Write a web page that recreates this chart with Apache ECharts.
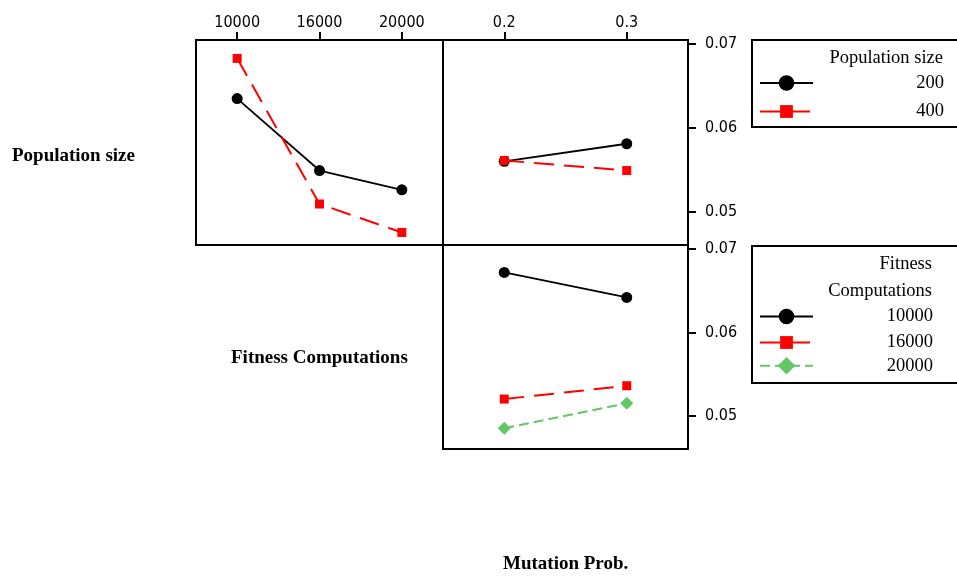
<!DOCTYPE html>
<html>
<head>
<meta charset="utf-8">
<script src="https://cdn.jsdelivr.net/npm/echarts@6/dist/echarts.min.js"></script>
<style>
  html, body { margin: 0; padding: 0; background: #fff; }
  #chart { width: 957px; height: 577px; }
</style>
</head>
<body>
<div id="chart"></div>
<script>
// Interaction plot: mean response by factor level pairs
const fitnessLevels = ['10000', '16000', '20000'];
const mutationLevels = ['0.2', '0.3'];
const yTicks = [0.05, 0.06, 0.07];

// Population size x Fitness computations
const pop200ByFitness = [0.0635, 0.0549, 0.0526];
const pop400ByFitness = [0.0683, 0.0509, 0.0475];
// Population size x Mutation prob.
const pop200ByMutation = [0.0560, 0.0581];
const pop400ByMutation = [0.0561, 0.0549];
// Fitness computations x Mutation prob.
const fit10000ByMutation = [0.0672, 0.0642];
const fit16000ByMutation = [0.0520, 0.0536];
const fit20000ByMutation = [0.0485, 0.0515];

const SANS = "'DejaVu Sans Condensed', 'Liberation Sans', sans-serif";
const SERIF = "'Liberation Serif', 'Times New Roman', serif";
const BLACK = '#000000';
const RED = '#ff0000';
const GREEN = '#63c763';

const chart = echarts.init(document.getElementById('chart'), null, { renderer: 'canvas' });

const frame = { show: true, borderColor: BLACK, borderWidth: 2, backgroundColor: 'transparent' };

function catAxis(gridIndex, data, showTop) {
  return {
    type: 'category', gridIndex, data, position: 'top', boundaryGap: true,
    axisLine: { show: showTop, lineStyle: { color: BLACK, width: 2 } },
    axisTick: { show: showTop, alignWithLabel: true, length: 8, lineStyle: { color: BLACK, width: 2 } },
    axisLabel: { show: showTop, margin: 9, color: BLACK, fontFamily: SANS, fontSize: 16 },
    splitLine: { show: false }
  };
}
function valAxis(gridIndex, showRight) {
  return {
    type: 'value', gridIndex, position: 'right', min: 0.046, max: 0.0705,
    axisLine: { show: false },
    axisTick: { show: showRight, customValues: yTicks, length: 8, lineStyle: { color: BLACK, width: 2 } },
    axisLabel: {
      show: showRight, customValues: yTicks, margin: 17, color: BLACK,
      fontFamily: SANS, fontSize: 16, formatter: v => v.toFixed(2)
    },
    splitLine: { show: false }
  };
}

const blackLine = (name, xi, yi, data) => ({
  name, type: 'line', xAxisIndex: xi, yAxisIndex: yi, data,
  symbol: 'circle', symbolSize: 11, color: BLACK,
  itemStyle: { color: BLACK },
  lineStyle: { color: BLACK, width: 1.8, type: 'solid' }, z: 3
});
const redLine = (name, xi, yi, data) => ({
  name, type: 'line', xAxisIndex: xi, yAxisIndex: yi, data,
  symbol: 'rect', symbolSize: 9, color: RED,
  itemStyle: { color: RED },
  lineStyle: { color: RED, width: 2, type: [20, 10] }, z: 4
});
const greenLine = (name, xi, yi, data) => ({
  name, type: 'line', xAxisIndex: xi, yAxisIndex: yi, data,
  symbol: 'diamond', symbolSize: [13, 13], color: GREEN,
  itemStyle: { color: GREEN },
  lineStyle: { color: GREEN, width: 2, type: [10, 5] }, z: 2
});

function legendRow(name, centerY, itemHeight, textWidth) {
  return {
    data: [name], orient: 'vertical', left: 759, top: centerY - itemHeight / 2,
    padding: 0, itemGap: 0, itemWidth: 53, itemHeight, selectedMode: false,
    formatter: n => '{r|' + n + '}',
    textStyle: {
      color: BLACK, fontFamily: SERIF, fontSize: 18.5,
      rich: { r: { width: textWidth, align: 'right', color: BLACK, fontFamily: SERIF, fontSize: 18.5 } }
    }
  };
}

const option = {
  backgroundColor: '#ffffff',
  animation: false,
  grid: [
    Object.assign({ left: 196, top: 40, width: 247, height: 205 }, frame),
    Object.assign({ left: 443, top: 40, width: 245, height: 205 }, frame),
    Object.assign({ left: 443, top: 245, width: 245, height: 204 }, frame)
  ],
  xAxis: [
    catAxis(0, fitnessLevels, true),
    catAxis(1, mutationLevels, true),
    catAxis(2, mutationLevels, false)
  ],
  yAxis: [
    valAxis(0, false),
    valAxis(1, true),
    valAxis(2, true)
  ],
  legend: [
    legendRow('200', 83.3, 19.5, 126),
    legendRow('400', 110, 16, 126),
    legendRow('10000', 316.7, 19.5, 115),
    legendRow('16000', 341, 16, 115),
    legendRow('20000', 367.3, 22, 115)
  ],
  series: [
    blackLine('200', 0, 0, pop200ByFitness),
    redLine('400', 0, 0, pop400ByFitness),
    blackLine('200', 1, 1, pop200ByMutation),
    redLine('400', 1, 1, pop400ByMutation),
    blackLine('10000', 2, 2, fit10000ByMutation),
    redLine('16000', 2, 2, fit16000ByMutation),
    greenLine('20000', 2, 2, fit20000ByMutation)
  ],
  graphic: [
    // legend frames
    { type: 'rect', shape: { x: 752, y: 40, width: 240, height: 87 },
      style: { fill: 'none', stroke: BLACK, lineWidth: 2 }, silent: true },
    { type: 'rect', shape: { x: 752, y: 246, width: 240, height: 137 },
      style: { fill: 'none', stroke: BLACK, lineWidth: 2 }, silent: true },
    // legend titles
    { type: 'text', x: 943, y: 58, style: { text: 'Population size', align: 'right', verticalAlign: 'middle',
      fill: BLACK, font: '18.5px ' + SERIF } },
    { type: 'text', x: 932, y: 264.3, style: { text: 'Fitness', align: 'right', verticalAlign: 'middle',
      fill: BLACK, font: '18.5px ' + SERIF } },
    { type: 'text', x: 932, y: 291, style: { text: 'Computations', align: 'right', verticalAlign: 'middle',
      fill: BLACK, font: '18.5px ' + SERIF } },
    // factor names
    { type: 'text', x: 12, y: 156, style: { text: 'Population size', align: 'left', verticalAlign: 'middle',
      fill: BLACK, font: 'bold 19px ' + SERIF } },
    { type: 'text', x: 231, y: 358, style: { text: 'Fitness Computations', align: 'left', verticalAlign: 'middle',
      fill: BLACK, font: 'bold 19px ' + SERIF } },
    { type: 'text', x: 503, y: 564, style: { text: 'Mutation Prob.', align: 'left', verticalAlign: 'middle',
      fill: BLACK, font: 'bold 19px ' + SERIF } }
  ]
};

chart.setOption(option);
</script>
</body>
</html>
